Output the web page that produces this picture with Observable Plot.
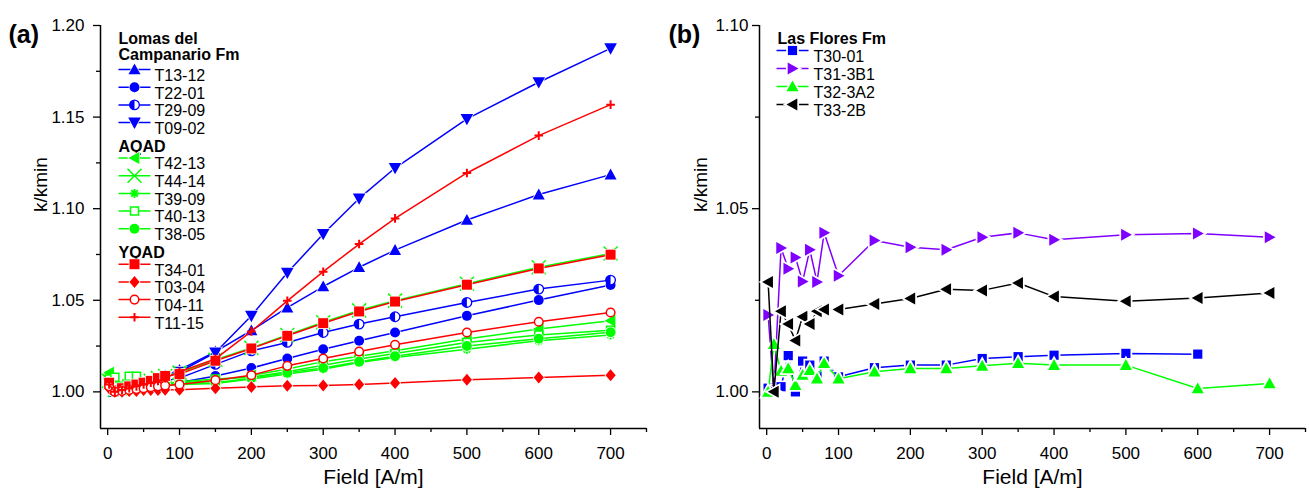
<!DOCTYPE html>
<html><head><meta charset="utf-8">
<script src="https://cdn.jsdelivr.net/npm/d3@7"></script>
<script src="https://cdn.jsdelivr.net/npm/@observablehq/plot@0.6"></script>
<style>
body{margin:0;background:#fff;}
#wrap{position:relative;width:1309px;height:496px;font-family:"Liberation Sans",Arial,Helvetica,sans-serif;}
#wrap > div{position:absolute;top:0;}
</style></head><body>
<div id="wrap"><div id="pa" style="left:0px"></div><div id="pb" style="left:655px"></div></div>
<script>
// ---------------- DATA ----------------
const fieldA = [2, 10, 20, 30, 40, 50, 60, 70, 80, 100, 150, 200, 250, 300, 350, 400, 500, 600, 700];
// Lomas del Campanario Fm
const T13_12 = [1.004, 1.000, 1.0005, 1.0015, 1.003, 1.004, 1.006, 1.007, 1.009, 1.012, 1.022, 1.0335, 1.046, 1.0575, 1.068, 1.0774, 1.0938, 1.1077, 1.1186];
const T22_01 = [1.003, 1.000, 1.0005, 1.001, 1.0015, 1.002, 1.003, 1.0035, 1.004, 1.0051, 1.0087, 1.013, 1.0182, 1.0233, 1.0279, 1.0324, 1.0415, 1.0501, 1.0583];
const T29_09 = [1.004, 1.000, 1.001, 1.0015, 1.002, 1.003, 1.004, 1.005, 1.006, 1.0075, 1.015, 1.0224, 1.027, 1.0324, 1.037, 1.041, 1.0488, 1.0561, 1.061];
const T09_02 = [1.005, 1.000, 1.001, 1.002, 1.003, 1.004, 1.005, 1.0065, 1.008, 1.011, 1.0215, 1.0415, 1.065, 1.0862, 1.1056, 1.1222, 1.149, 1.169, 1.1875];
// AQAD
const T42_13 = [1.0105, 1.001, 1.001, 1.0015, 1.002, 1.0025, 1.003, 1.0035, 1.004, 1.005, 1.006, 1.009, 1.0125, 1.0165, 1.0195, 1.0225, 1.0288, 1.0343, 1.0388];
const T44_14 = [1.006, 1.001, 1.002, 1.003, 1.004, 1.005, 1.006, 1.0075, 1.0087, 1.0105, 1.0175, 1.024, 1.031, 1.038, 1.0445, 1.0498, 1.059, 1.068, 1.0755];
const T39_09 = [1.003, 1.000, 1.0005, 1.001, 1.0015, 1.002, 1.0025, 1.003, 1.0035, 1.004, 1.0045, 1.007, 1.0097, 1.0124, 1.016, 1.0188, 1.0233, 1.0279, 1.0311];
const T40_13 = [1.007, 1.008, 1.003, 1.0085, 1.0085, 1.003, 1.0035, 1.004, 1.0045, 1.0055, 1.007, 1.008, 1.011, 1.0145, 1.018, 1.021, 1.027, 1.0311, 1.0337];
const T38_05 = [1.004, 1.000, 1.001, 1.0015, 1.002, 1.0025, 1.003, 1.0035, 1.004, 1.0045, 1.005, 1.0075, 1.0105, 1.013, 1.0165, 1.0195, 1.025, 1.029, 1.0325];
// YQAD
const T34_01 = [1.005, 1.001, 1.002, 1.003, 1.004, 1.005, 1.006, 1.0075, 1.0087, 1.0097, 1.017, 1.0237, 1.0306, 1.0375, 1.0439, 1.0493, 1.0585, 1.0674, 1.0749];
const T03_04 = [1.002, 1.000, 1.000, 1.0005, 1.0005, 1.001, 1.001, 1.001, 1.0012, 1.0012, 1.002, 1.0027, 1.0033, 1.0035, 1.004, 1.0049, 1.0066, 1.0078, 1.0091];
const T04_11 = [1.003, 1.000, 1.0005, 1.001, 1.0015, 1.002, 1.0025, 1.003, 1.0035, 1.004, 1.0064, 1.0091, 1.0142, 1.0182, 1.022, 1.0257, 1.0324, 1.0383, 1.0433];
const T11_15 = [1.004, 1.000, 1.001, 1.002, 1.003, 1.004, 1.005, 1.006, 1.0075, 1.011, 1.018, 1.033, 1.0497, 1.0656, 1.0807, 1.0947, 1.1195, 1.1399, 1.1568];

const fieldB = [2, 10, 20, 30, 40, 50, 60, 70, 80, 100, 150, 200, 250, 300, 350, 400, 500, 600, 700];
// Las Flores Fm
const T30_01  = [1.001, 1.0005, 1.0014, 1.0099, 1.000, 1.0084, 1.0073, 1.0043, 1.0084, 1.0041, 1.0066, 1.0073, 1.0073, 1.0091, 1.0096, 1.0100, 1.0105, 1.0103, null];
const T31_3B1 = [1.021, 1.000, 1.0393, 1.0336, 1.0367, 1.0301, 1.0388, 1.030, 1.0434, 1.0317, 1.0413, 1.0395, 1.0388, 1.0422, 1.0434, 1.0415, 1.0429, 1.0432, 1.0422];
const T32_3A2 = [1.000, 1.013, 1.0057, 1.0064, 1.0018, 1.0046, 1.0059, 1.0036, 1.0078, 1.0036, 1.0055, 1.0064, 1.0064, 1.0071, 1.0078, 1.0073, 1.0073, 1.0009, 1.0023];
const T33_2B  = [1.030, 1.000, 1.022, 1.0185, 1.014, 1.0205, 1.0185, 1.022, 1.0225, 1.0225, 1.024, 1.0255, 1.028, 1.0277, 1.0297, 1.026, 1.0247, 1.0256, 1.027];

const groupNamesA = ["Lomas del", "AQAD", "YQAD"];
const groupNamesA2 = "Campanario Fm";
const groupNameB = "Las Flores Fm";
const namesA = [["T13-12","T22-01","T29-09","T09-02"], ["T42-13","T44-14","T39-09","T40-13","T38-05"], ["T34-01","T03-04","T04-11","T11-15"]];
const valuesA = {"T13-12":T13_12,"T22-01":T22_01,"T29-09":T29_09,"T09-02":T09_02,"T42-13":T42_13,"T44-14":T44_14,"T39-09":T39_09,"T40-13":T40_13,"T38-05":T38_05,"T34-01":T34_01,"T03-04":T03_04,"T04-11":T04_11,"T11-15":T11_15};
const namesB = ["T30-01","T31-3B1","T32-3A2","T33-2B"];
const valuesB = {"T30-01":T30_01,"T31-3B1":T31_3B1,"T32-3A2":T32_3A2,"T33-2B":T33_2B};

const xDomain = [-10, 750];
const xMajor = [0, 100, 200, 300, 400, 500, 600, 700];
const xMinor = [50, 150, 250, 350, 450, 550, 650, 750];
const yDomainA = [0.98, 1.20];
const yMajorA = [1.00, 1.05, 1.10, 1.15, 1.20];
const yMinorA = [1.025, 1.075, 1.125, 1.175];
const yDomainB = [0.99, 1.10];
const yMajorB = [1.00, 1.05, 1.10];
const yMinorB = [1.025, 1.075];

// ---------------- STYLES ----------------
const BLUE = "#0000ff", RED = "#ff0000", GREEN = "#00ff00", PURPLE = "#8000ff", BLACK = "#000000";
const S = (fn) => ({draw(ctx, size){ const h = Math.sqrt(size / Math.PI); fn(ctx, h); }});
const SYM = {
  square: S((c,h)=>{c.moveTo(-h,-h);c.lineTo(h,-h);c.lineTo(h,h);c.lineTo(-h,h);c.closePath();}),
  circle: S((c,h)=>{c.moveTo(h,0);c.arc(0,0,h,0,2*Math.PI);c.closePath();}),
  triUp: S((c,h)=>{c.moveTo(0,-h);c.lineTo(h,h*0.8);c.lineTo(-h,h*0.8);c.closePath();}),
  triDown: S((c,h)=>{c.moveTo(0,h);c.lineTo(h,-h*0.8);c.lineTo(-h,-h*0.8);c.closePath();}),
  triLeft: S((c,h)=>{c.moveTo(-h,0);c.lineTo(h*0.8,-h);c.lineTo(h*0.8,h);c.closePath();}),
  triRight: S((c,h)=>{c.moveTo(h,0);c.lineTo(-h*0.8,-h);c.lineTo(-h*0.8,h);c.closePath();}),
  diamond: S((c,h)=>{c.moveTo(0,-h);c.lineTo(h*0.85,0);c.lineTo(0,h);c.lineTo(-h*0.85,0);c.closePath();}),
  plus: S((c,h)=>{c.moveTo(-h,0);c.lineTo(h,0);c.moveTo(0,-h);c.lineTo(0,h);}),
  times: S((c,h)=>{c.moveTo(-h,-h);c.lineTo(h,h);c.moveTo(h,-h);c.lineTo(-h,h);}),
  asterisk: S((c,h)=>{const d=h*0.72;c.moveTo(-h,0);c.lineTo(h,0);c.moveTo(0,-h);c.lineTo(0,h);c.moveTo(-d,-d);c.lineTo(d,d);c.moveTo(d,-d);c.lineTo(-d,d);}),
  halfLeft: S((c,h)=>{c.moveTo(0,-h);c.arc(0,0,h,-Math.PI/2,Math.PI/2,true);c.closePath();}),
  dash: S((c,h)=>{c.moveTo(-h,0);c.lineTo(h,0);})
};
const STY = {
  "T13-12": {color: BLUE, sym: "triUp", r: 6, kind: "fill"},
  "T22-01": {color: BLUE, sym: "circle", r: 5, kind: "fill"},
  "T29-09": {color: BLUE, sym: "circle", r: 4.8, kind: "half"},
  "T09-02": {color: BLUE, sym: "triDown", r: 6.3, kind: "fill"},
  "T42-13": {color: GREEN, sym: "triLeft", r: 6, kind: "fill"},
  "T44-14": {color: GREEN, sym: "times", r: 7, kind: "line", sw: 1.5},
  "T39-09": {color: GREEN, sym: "asterisk", r: 4.5, kind: "line", sw: 2},
  "T40-13": {color: GREEN, sym: "square", r: 4, kind: "open"},
  "T38-05": {color: GREEN, sym: "circle", r: 5, kind: "fill"},
  "T34-01": {color: RED, sym: "square", r: 5, kind: "fill"},
  "T03-04": {color: RED, sym: "diamond", r: 6, kind: "fill"},
  "T04-11": {color: RED, sym: "circle", r: 4.3, kind: "open"},
  "T11-15": {color: RED, sym: "plus", r: 4.3, kind: "line", sw: 2},
  "T30-01": {color: BLUE, sym: "square", r: 4.6, kind: "fill"},
  "T31-3B1": {color: PURPLE, sym: "triRight", r: 6, kind: "fill"},
  "T32-3A2": {color: GREEN, sym: "triUp", r: 6, kind: "fill"},
  "T33-2B": {color: BLACK, sym: "triLeft", r: 6, kind: "fill"}
};

function markerMarks(st, data, pos, halo) {
  const base = {...pos, symbol: SYM[st.sym], r: st.r};
  if (st.kind === "line") return [Plot.dot(data, {...base, fill: "none", stroke: st.color, strokeWidth: st.sw})];
  if (st.kind === "open") return [Plot.dot(data, {...base, fill: "white", stroke: st.color, strokeWidth: 1.5})];
  if (st.kind === "half") return [
    Plot.dot(data, {...base, fill: "white", stroke: st.color, strokeWidth: 1.3}),
    Plot.dot(data, {...base, symbol: SYM.halfLeft, fill: st.color, stroke: "none"})
  ];
  return [Plot.dot(data, {...base, fill: st.color, stroke: "white", strokeWidth: halo, paintOrder: "stroke"})];
}
function seriesMarks(name, fields, vals, halo) {
  const st = STY[name];
  const rows = fields.map((f, i) => ({field: f, value: vals[i]})).filter(d => d.value != null);
  return [
    Plot.line(rows, {x: "field", y: "value", stroke: st.color, strokeWidth: 1.5}),
    ...markerMarks(st, rows, {x: "field", y: "value"}, halo)
  ];
}
const headText = (t, dx, dy) => Plot.text([t], {text: d => d, frameAnchor: "top-left", dx, dy, textAnchor: "start", fontSize: 16, fontWeight: "bold", fill: "black"});
function legendItem(name, cx, tx, dy, halo) {
  const st = STY[name];
  const pos = {frameAnchor: "top-left", dx: cx, dy};
  return [
    Plot.dot([0], {...pos, symbol: SYM.dash, r: 16, fill: "none", stroke: st.color, strokeWidth: 1.5}),
    ...markerMarks(st, [0], pos, halo),
    Plot.text([name], {text: d => d, frameAnchor: "top-left", dx: tx, dy, textAnchor: "start", fontSize: 16, fill: "black"})
  ];
}
function axesMarks(yDom, yMaj, yMin, yPad) {
  return [
    Plot.ruleX([xDomain[0]], {stroke: "black", strokeWidth: 1.5}),
    Plot.ruleY([yDom[0]], {stroke: "black", strokeWidth: 1.5}),
    Plot.axisX({ticks: xMajor, tickSize: 7, tickPadding: 11, label: null, strokeWidth: 1.3, fontSize: 17}),
    Plot.axisX({ticks: xMinor, tickSize: 4, tickFormat: () => "", label: null, strokeWidth: 1.3}),
    Plot.axisY({ticks: yMaj, tickSize: 7, tickPadding: yPad, tickFormat: d3.format(".2f"), label: null, strokeWidth: 1.3, fontSize: 17}),
    Plot.axisY({ticks: yMin, tickSize: 4, tickFormat: () => "", label: null, strokeWidth: 1.3})
  ];
}
const style = {fontFamily: '"Liberation Sans", Arial, Helvetica, sans-serif', fontSize: "17px", background: "white", overflow: "visible", color: "black"};

// ---------------- PANEL A ----------------
const haloA = 1.5;
const marksA = [...axesMarks(yDomainA, yMajorA, yMinorA, 9)];
namesA.flat().forEach(n => marksA.push(...seriesMarks(n, fieldA, valuesA[n], haloA)));
marksA.push(headText(groupNamesA[0], 18, 6.7), headText(groupNamesA2, 18, 23));
let k = 0;
namesA.forEach((members, gi) => {
  if (gi > 0) { marksA.push(headText(groupNamesA[gi], 18, 44 + k * 17.7)); k++; }
  members.forEach(n => { marksA.push(...legendItem(n, 34, 54, 44 + k * 17.7, haloA)); k++; });
});
marksA.push(
  Plot.text(["k/kmin"], {text: d => d, frameAnchor: "left", dx: -60, dy: -15, rotate: -90, fontSize: 19}),
  Plot.text(["Field [A/m]"], {text: d => d, frameAnchor: "bottom", dy: 55, fontSize: 21}),
  Plot.text(["(a)"], {text: d => d, frameAnchor: "top-left", dx: -92, dy: 0, textAnchor: "start", fontWeight: "bold", fontSize: 25})
);
const plotA = Plot.plot({
  width: 655, height: 496, marginLeft: 100, marginRight: 9, marginTop: 25, marginBottom: 68,
  x: {domain: xDomain}, y: {domain: yDomainA}, style, marks: marksA
});
document.getElementById("pa").append(plotA);

// ---------------- PANEL B ----------------
const haloB = 3.5;
const marksB = [...axesMarks(yDomainB, yMajorB, yMinorB, 4)];
namesB.forEach(n => marksB.push(...seriesMarks(n, fieldB, valuesB[n], haloB)));
marksB.push(headText(groupNameB, 18, 6.7));
namesB.forEach((n, i) => marksB.push(...legendItem(n, 33, 54, 25 + i * 18, haloB)));
marksB.push(
  Plot.text(["k/kmin"], {text: d => d, frameAnchor: "left", dx: -59, dy: -15, rotate: -90, fontSize: 19}),
  Plot.text(["Field [A/m]"], {text: d => d, frameAnchor: "bottom", dy: 55, fontSize: 21}),
  Plot.text(["(b)"], {text: d => d, frameAnchor: "top-left", dx: -91, dy: 0, textAnchor: "start", fontWeight: "bold", fontSize: 25})
);
const plotB = Plot.plot({
  width: 654, height: 496, marginLeft: 104, marginRight: 4, marginTop: 25, marginBottom: 68,
  x: {domain: xDomain}, y: {domain: yDomainB}, style, marks: marksB
});
document.getElementById("pb").append(plotB);
</script>
</body></html>
